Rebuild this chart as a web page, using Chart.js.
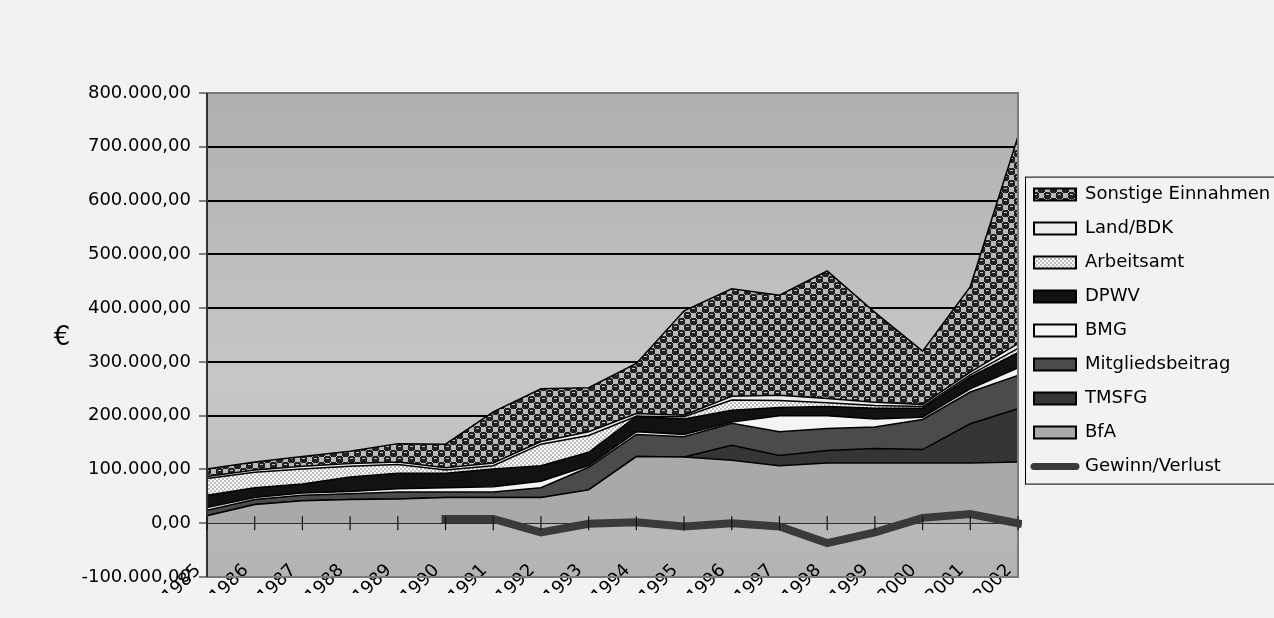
<!DOCTYPE html>
<html>
<head>
<meta charset="utf-8">
<script src="https://cdn.jsdelivr.net/npm/chart.js@4"></script>
<style>
  body { margin: 0; background: #f2f2f2; }
  #wrap { width: 1274px; height: 618px; position: relative; }
</style>
</head>
<body>
<div id="wrap"><canvas id="myChart"></canvas></div>
<script>
const years = ['1985','1986','1987','1988','1989','1990','1991','1992','1993','1994','1995','1996','1997','1998','1999','2000','2001','2002'];

const bfa        = [14000, 35000, 42000, 44000, 45000, 48000, 48000, 48000, 62000, 124000, 123000, 117000, 107000, 112000, 112000, 112000, 112000, 114000];
const tmsfg      = [0, 0, 0, 0, 0, 0, 0, 0, 0, 0, 0, 28000, 19000, 23000, 27000, 25000, 73000, 99000];
const mitglied   = [10000, 9000, 10000, 11000, 13000, 10000, 10000, 18000, 42000, 41000, 38000, 41000, 44000, 41000, 40000, 56000, 59000, 62000];
const bmg        = [5000, 4000, 4000, 4000, 6000, 8000, 10000, 12000, 3000, 5000, 4000, 2000, 30000, 24000, 15000, 4000, 6000, 14000];
const dpwv       = [23000, 18000, 17000, 27000, 29000, 27000, 33000, 29000, 25000, 29000, 29000, 22000, 15000, 17000, 20000, 17000, 22000, 28000];
const arbeitsamt = [31000, 29000, 28000, 20000, 16000, 6000, 6000, 40000, 31000, 0, 4000, 19000, 13000, 7000, 5000, 3000, 4000, 8000];
const land       = [4000, 4000, 5000, 5000, 5000, 4000, 5000, 5000, 7000, 5000, 3000, 7000, 10000, 8000, 6000, 4000, 5000, 9000];
const sonstige   = [14000, 15000, 18000, 23000, 34000, 44000, 95000, 98000, 82000, 93000, 194000, 200000, 186000, 237000, 167000, 99000, 159000, 385000];
const gewinn     = [null, null, null, null, null, 8000, 8000, -17000, -1000, 2000, -6000, 0, -6000, -37000, -17000, 10000, 17000, 0];

const Y_MIN = -100000;
const Y_MAX = 800000;
const Y_STEP = 100000;

const FONT = "'DejaVu Sans', Verdana, sans-serif";

// fill patterns (Excel style)
function makePattern(size, draw) {
  const c = document.createElement('canvas');
  c.width = size; c.height = size;
  draw(c.getContext('2d'));
  return c.getContext('2d').createPattern(c, 'repeat');
}

const sonstigePattern = makePattern(12, (g) => {
  g.fillStyle = '#b9b9b9';
  g.fillRect(0, 0, 12, 12);
  // rounded dark blobs in a checker arrangement
  const blob = (ox, oy) => {
    g.fillStyle = '#222';
    g.fillRect(ox, oy + 1, 7, 5);
    g.fillRect(ox + 1, oy, 5, 7);
    g.fillStyle = '#bebebe';
    g.fillRect(ox + 2, oy + 2, 3, 1);
  };
  for (let i = -1; i <= 1; i++) {
    for (let j = -1; j <= 1; j++) {
      blob(i * 12, j * 12);
      blob(i * 12 + 6, j * 12 + 6);
    }
  }
});

const arbeitsPattern = makePattern(4, (g) => {
  g.fillStyle = '#fbfbfb';
  g.fillRect(0, 0, 4, 4);
  g.fillStyle = '#bcbcbc';
  g.fillRect(0, 0, 2, 2);
  g.fillRect(2, 2, 2, 2);
});

function fmt(v) {
  const s = Math.abs(v).toFixed(0).replace(/\B(?=(\d{3})+(?!\d))/g, '.');
  return (v < 0 ? '-' : '') + s + ',00';
}

function area(label, data, color, fill) {
  return {
    label: label,
    data: data,
    backgroundColor: color,
    borderColor: '#000',
    borderWidth: 1.5,
    fill: fill,
    pointRadius: 0,
    tension: 0,
    stack: 'a'
  };
}

const plotDeco = {
  id: 'plotDeco',
  afterLayout(chart) {
    // category labels sit partly over the plot bottom, like the original
    const s = chart.scales.x;
    s.top -= 25;
    s.bottom -= 25;
  },
  beforeDraw(chart) {
    const {ctx, chartArea: a} = chart;
    ctx.save();
    ctx.fillStyle = '#f2f2f2';
    ctx.fillRect(0, 0, chart.width, chart.height);
    const grd = ctx.createLinearGradient(0, a.top, 0, a.bottom);
    grd.addColorStop(0, '#afafaf');
    grd.addColorStop(0.6, '#c7c7c7');
    grd.addColorStop(1, '#b3b3b3');
    ctx.fillStyle = grd;
    ctx.fillRect(a.left, a.top, a.right - a.left, a.bottom - a.top);
    ctx.restore();
  },
  afterDatasetsDraw(chart) {
    const {ctx, chartArea: a, scales} = chart;
    ctx.save();
    // frame
    ctx.strokeStyle = '#7a7a7a';
    ctx.lineWidth = 2;
    ctx.strokeRect(a.left, a.top, a.right - a.left, a.bottom - a.top);
    ctx.strokeStyle = '#333';
    ctx.beginPath();
    ctx.moveTo(a.left, a.top);
    ctx.lineTo(a.left, a.bottom);
    ctx.stroke();
    // category ticks on the zero line
    const y0 = scales.y.getPixelForValue(0);
    ctx.strokeStyle = '#111';
    ctx.lineWidth = 1.2;
    years.forEach((yr, i) => {
      const x = scales.x.getPixelForValue(i);
      ctx.beginPath();
      ctx.moveTo(x, y0 - 7);
      ctx.lineTo(x, y0 + 7);
      ctx.stroke();
    });
    ctx.restore();
  },
  afterDraw(chart) {
    const {ctx, chartArea: a} = chart;
    ctx.save();
    // unrotated axis title
    ctx.fillStyle = '#000';
    ctx.font = "26px " + FONT;
    ctx.textAlign = 'center';
    ctx.textBaseline = 'middle';
    ctx.fillText('€', 62, (a.top + a.bottom) / 2 + 3);
    // legend frame
    const hb = chart.legend.legendHitBoxes;
    if (hb && hb.length) {
      const first = hb[0], last = hb[hb.length - 1];
      ctx.strokeStyle = '#000';
      ctx.lineWidth = 1;
      ctx.strokeRect(first.left - 8.5, first.top - 8.5, chart.width, last.top + last.height - first.top + 17);
    }
    ctx.restore();
  }
};

new Chart(document.getElementById('myChart'), {
  type: 'line',
  data: {
    labels: years,
    datasets: [
      area('BfA', bfa, '#a9a9a9', 'origin'),
      area('TMSFG', tmsfg, '#353535', '-1'),
      area('Mitgliedsbeitrag', mitglied, '#4b4b4b', '-1'),
      area('BMG', bmg, '#f4f4f4', '-1'),
      area('DPWV', dpwv, '#121212', '-1'),
      area('Arbeitsamt', arbeitsamt, arbeitsPattern, '-1'),
      area('Land/BDK', land, '#ececec', '-1'),
      area('Sonstige Einnahmen', sonstige, sonstigePattern, '-1'),
      {
        label: 'Gewinn/Verlust',
        data: gewinn,
        borderColor: '#3a3a3a',
        backgroundColor: '#3a3a3a',
        borderWidth: 8,
        borderCapStyle: 'square',
        fill: false,
        pointRadius: 0,
        tension: 0,
        stack: 'gv',
        order: -1
      }
    ]
  },
  options: {
    responsive: true,
    maintainAspectRatio: false,
    animation: false,
    layout: { padding: { top: 93, left: 0, right: 0, bottom: 0 } },
    scales: {
      x: {
        offset: false,
        grid: { display: false },
        border: { display: false },
        ticks: {
          color: '#000',
          font: { family: FONT, size: 18 },
          maxRotation: 45,
          minRotation: 45,
          autoSkip: false,
          padding: 0,
          labelOffset: -9
        },
        afterFit(scale) { scale.height = 41; }
      },
      y: {
        stacked: true,
        min: Y_MIN,
        max: Y_MAX,
        border: { color: '#333', width: 2 },
        grid: {
          color: (c) => (c.tick && (c.tick.value === Y_MAX || c.tick.value === Y_MIN)) ? 'rgba(0,0,0,0)' : '#000',
          lineWidth: 2,
          tickColor: '#333',
          tickWidth: 1.2,
          tickLength: 8
        },
        ticks: {
          stepSize: Y_STEP,
          color: '#000',
          padding: 8,
          font: { family: FONT, size: 18 },
          callback: (v) => fmt(v)
        },
        afterFit(scale) { scale.width = 207; }
      }
    },
    plugins: {
      tooltip: { enabled: false },
      legend: {
        position: 'right',
        align: 'start',
        maxWidth: 256,
        title: {
          display: true,
          text: ' ',
          font: { family: FONT, size: 18 },
          padding: { top: 55, bottom: 0 }
        },
        labels: {
          color: '#000',
          font: { family: FONT, size: 18 },
          usePointStyle: true,
          pointStyleWidth: 42,
          boxHeight: 12,
          padding: 16,
          generateLabels(chart) {
            const items = Chart.defaults.plugins.legend.labels.generateLabels(chart);
            items.forEach((it) => {
              if (it.datasetIndex === 8) {
                it.pointStyle = 'line';
                it.lineWidth = 7;
                it.lineCap = 'round';
                it.strokeStyle = '#3a3a3a';
              } else {
                it.pointStyle = 'rect';
                it.lineWidth = 2;
                it.strokeStyle = '#000';
              }
            });
            return items;
          },
          sort: (a, b) => {
            const oa = a.datasetIndex === 8 ? 99 : -a.datasetIndex;
            const ob = b.datasetIndex === 8 ? 99 : -b.datasetIndex;
            return oa - ob;
          }
        }
      }
    }
  },
  plugins: [plotDeco]
});
</script>
</body>
</html>
